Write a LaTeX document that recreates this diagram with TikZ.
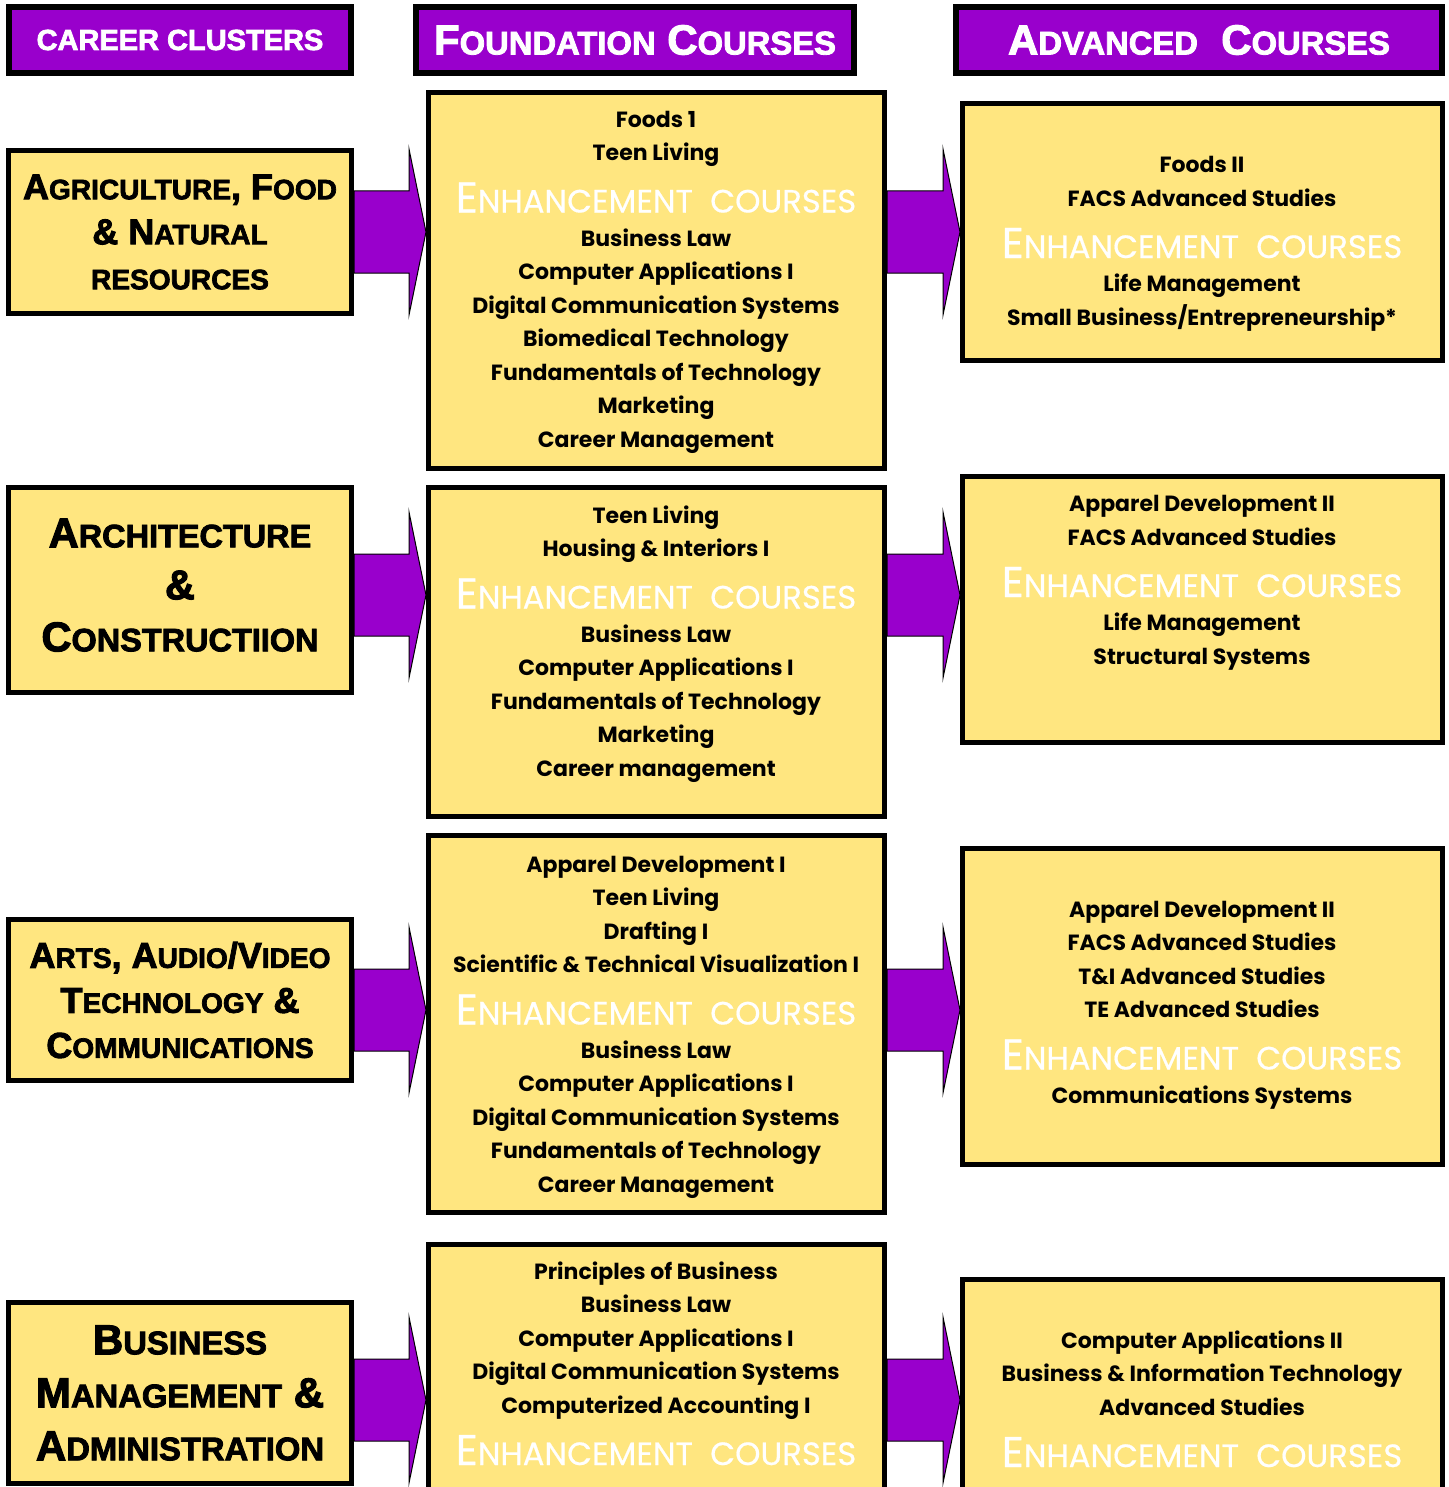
\documentclass[tikz,border=0pt]{standalone}
\usepackage{fontspec}
\setmainfont{Poppins}
\newfontfamily\headfont[FakeBold=2.5]{Liberation Sans Bold}
\newfontfamily\enhfont[FakeBold=0.5]{Poppins}
\usetikzlibrary{calc}
\definecolor{clusterpurple}{HTML}{9900CC}
\definecolor{courseyellow}{HTML}{FFE680}
%% fake small caps: big initial, smaller rest
\newcommand\smc[2]{#1\scalebox{0.78}{#2}}
\newcommand\enh{{\enhfont\mdseries\fontsize{21.5}{21.5}\selectfont\color{white}E\scalebox{0.75}{NHANCEMENT\ \ COURSES}}}
%% block arrow from one box to the next, at the height of a level
\newcommand\blockarrow[3]{%
  \draw[bigarrow] ($(#1.east |- #3)+(0,-41)$) -- ($(#2.west |- #3)+(-17,-41)$)
    -- ($(#2.west |- #3)+(-17,-83)$) -- (#2.west |- #3) -- ($(#2.west |- #3)+(-17,83)$)
    -- ($(#2.west |- #3)+(-17,41)$) -- ($(#1.east |- #3)+(0,41)$) -- cycle;}
\tikzset{
  header/.style={draw=black,line width=3pt,fill=clusterpurple,text=white,inner sep=0pt,minimum height=33pt},
  cluster/.style={draw=black,line width=2.5pt,fill=courseyellow,align=center,inner sep=0pt,minimum width=171.5pt},
  course/.style={draw=black,line width=2.5pt,fill=courseyellow,inner sep=0pt},
  courselist/.style={align=center,inner sep=0pt,anchor=base,font={\bfseries\fontsize{11}{16.75}\selectfont\lineskiplimit=-100pt}},
  bigarrow/.style={fill=clusterpurple,draw=black,line width=0.5pt},
}
\begin{document}
\begin{tikzpicture}[x=0.5pt,y=-0.5pt]
    \clip (0,0) rectangle (1449,1487);
    %% Headers
    \node[header,minimum width=171pt,font={\headfont\fontsize{14.5}{16}\selectfont}] (h1) at (180,40) {CAREER CLUSTERS};
    \node[header,minimum width=219pt,font={\headfont\fontsize{21}{22}\selectfont}] (h2) at (635,40) {\raisebox{-3pt}{\smc{F}{OUNDATION} \smc{C}{OURSES}}};
    \node[header,minimum width=243pt,font={\headfont\fontsize{21}{22}\selectfont}] (h3) at (1199,40) {\raisebox{-3pt}{\smc{A}{DVANCED}\ \ \smc{C}{OURSES}}};
    %% Career clusters
    \node[cluster,minimum height=81.5pt,font={\headfont\fontsize{18}{22.5}\selectfont\lineskiplimit=-100pt}] (c1) at (180,232)
        {\smc{A}{GRICULTURE}, \smc{F}{OOD}\\\& \smc{N}{ATURAL}\\\scalebox{0.78}{RESOURCES}};
    \node[cluster,minimum height=102.5pt,font={\headfont\fontsize{20.8}{26}\selectfont\lineskiplimit=-100pt}] (c2) at (180,590)
        {\raisebox{5pt}{\smc{A}{RCHITECTURE}}\\\raisebox{5pt}{\&}\\\raisebox{5pt}{\smc{C}{ONSTRUCTIION}}};
    \node[cluster,minimum height=80.5pt,font={\headfont\fontsize{18}{22.5}\selectfont\lineskiplimit=-100pt}] (c3) at (180,1000)
        {\smc{A}{RTS}, \smc{A}{UDIO}/\smc{V}{IDEO}\\\smc{T}{ECHNOLOGY} \&\\\smc{C}{OMMUNICATIONS}};
    \node[cluster,minimum height=90.5pt,font={\headfont\fontsize{21}{26.5}\selectfont\lineskiplimit=-100pt}] (c4) at (180,1393)
        {\smc{B}{USINESS}\\\smc{M}{ANAGEMENT} \&\\\smc{A}{DMINISTRATION}};
    %% Foundation courses
    \node[course,minimum width=228pt,minimum height=188pt] (m1) at (656.5,280.5) {};
    \node[course,minimum width=228pt,minimum height=164.5pt] (m2) at (656.5,652) {};
    \node[course,minimum width=228pt,minimum height=188.5pt] (m3) at (656.5,1024) {};
    \node[course,minimum width=228pt,minimum height=141.5pt] (m4) at (656.5,1386) {};
    %% lists are placed by the baseline of their last line
    \node[courselist] (m1t) at (656,447) {Foods 1\\Teen Living\\[9.25pt]\enh\\Business Law\\Computer Applications I\\
        Digital Communication Systems\\Biomedical Technology\\Fundamentals of Technology\\Marketing\\Career Management};
    \node[courselist] (m2t) at (656,776) {Teen Living\\Housing \& Interiors I\\[9.25pt]\enh\\Business Law\\
        Computer Applications I\\Fundamentals of Technology\\Marketing\\Career management};
    \node[courselist] (m3t) at (656,1192) {Apparel Development I\\Teen Living\\Drafting I\\Scientific \& Technical Visualization I\\[9.25pt]
        \enh\\Business Law\\Computer Applications I\\Digital Communication Systems\\Fundamentals of Technology\\Career Management};
    \node[courselist] (m4t) at (656,1465) {Principles of Business\\Business Law\\Computer Applications I\\
        Digital Communication Systems\\Computerized Accounting I\\[9.25pt]\enh};
    %% Advanced courses
    \node[course,minimum width=240pt,minimum height=128.5pt] (r1) at (1202.5,232) {};
    \node[course,minimum width=240pt,minimum height=133pt] (r2) at (1202.5,609.5) {};
    \node[course,minimum width=240pt,minimum height=158pt] (r3) at (1202.5,1006.5) {};
    \node[course,minimum width=240pt,minimum height=124pt] (r4) at (1202.5,1403.5) {};
    \node[courselist] (r1t) at (1202,325) {Foods II\\FACS Advanced Studies\\[9.25pt]\enh\\Life Management\\Small Business/Entrepreneurship*};
    \node[courselist] (r2t) at (1202,664) {Apparel Development II\\FACS Advanced Studies\\[9.25pt]\enh\\Life Management\\Structural Systems};
    \node[courselist] (r3t) at (1202,1103) {Apparel Development II\\FACS Advanced Studies\\T\&I Advanced Studies\\TE Advanced Studies\\[9.25pt]
        \enh\\Communications Systems};
    \node[courselist] (r4t) at (1202,1467) {Computer Applications II\\Business \& Information Technology\\Advanced Studies\\[9.25pt]\enh};
    %% Arrows
    \coordinate (lv1) at (0,232);
    \coordinate (lv2) at (0,595);
    \coordinate (lv3) at (0,1010);
    \coordinate (lv4) at (0,1400);
    \blockarrow{c1}{m1}{lv1}
    \blockarrow{c2}{m2}{lv2}
    \blockarrow{c3}{m3}{lv3}
    \blockarrow{c4}{m4}{lv4}
    \blockarrow{m1}{r1}{lv1}
    \blockarrow{m2}{r2}{lv2}
    \blockarrow{m3}{r3}{lv3}
    \blockarrow{m4}{r4}{lv4}
\end{tikzpicture}
\end{document}
